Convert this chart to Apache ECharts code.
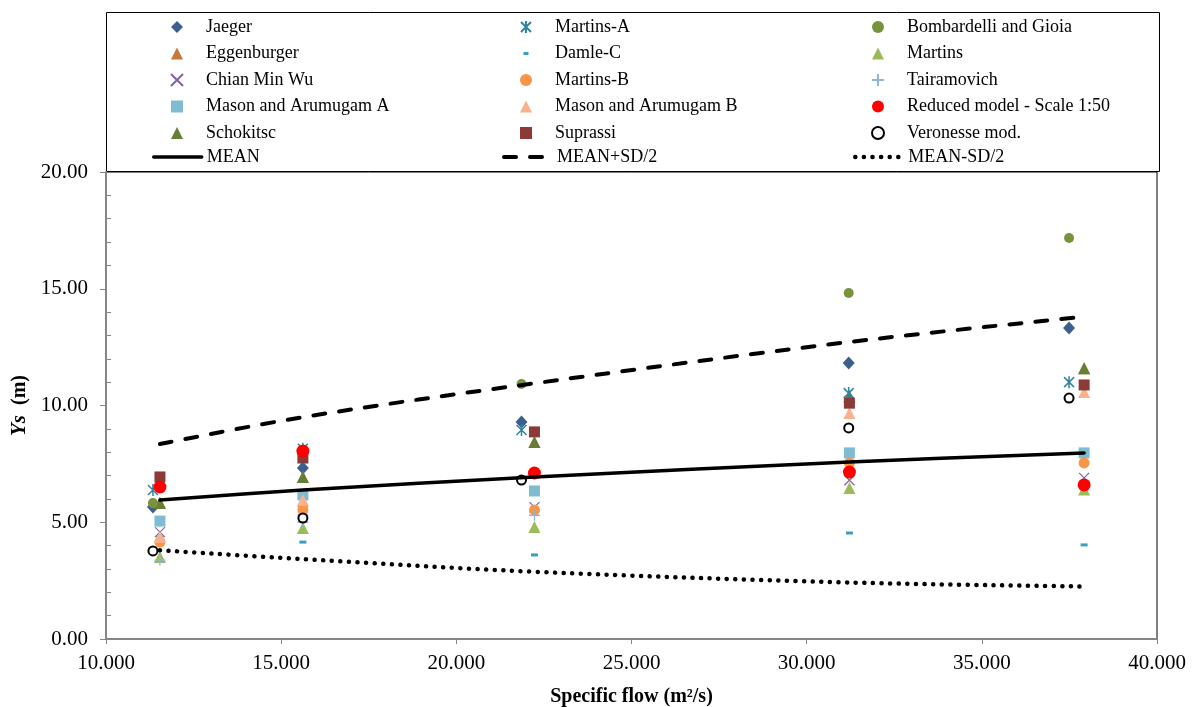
<!DOCTYPE html>
<html>
<head>
<meta charset="utf-8">
<script src="https://cdn.jsdelivr.net/npm/echarts@6/dist/echarts.min.js"></script>
<style>html,body{margin:0;padding:0;background:#fff}#c{width:1192px;height:707px}</style>
</head>
<body>
<div id="c"></div>
<script>
// x positions (specific flow, m²/s)
var qA = [11.34, 15.62, 21.86, 31.20, 37.49];
var qB = [11.54, 15.62, 22.23, 31.22, 37.92];
// Ys (m) per method
var jaeger      = [5.65, 7.32, 9.29, 11.82, 13.32];
var eggenburger = [5.82, 6.94, 8.44, 10.40, 11.60];
var chianMinWu  = [4.58, 5.50, 5.65, 6.80, 6.90];
var masonA      = [5.05, 6.17, 6.34, 7.97, 7.97];
var schokitsc   = [5.82, 6.94, 8.44, 10.40, 11.60];
var martinsA    = [6.38, 8.15, 8.95, 10.53, 11.00];
var damleC      = [4.37, 4.15, 3.60, 4.54, 4.03];
var martinsB    = [4.15, 5.52, 5.52, 7.54, 7.54];
var masonB      = [4.37, 5.95, 7.11, 9.68, 10.58];
var suprassi    = [6.94, 7.75, 8.87, 10.10, 10.88];
var bombardelli = [5.82, 8.05, 10.92, 14.82, 17.17];
var martins     = [3.51, 4.75, 4.80, 6.47, 6.40];
var tairamovich = [3.38, 5.00, 5.30, 7.15, 6.60];
var reduced     = [6.51, 8.05, 7.11, 7.15, 6.60];
var veronesse   = [3.77, 5.18, 6.81, 9.04, 10.32];
var mean        = [5.95, 6.38, 6.94, 7.58, 7.97];
var meanPlus    = [8.35, 9.50, 10.95, 12.72, 13.80];
var meanMinus   = [3.80, 3.42, 2.88, 2.42, 2.25];
var yTicks = [0, 5, 10, 15, 20];
var xTicks = [10, 15, 20, 25, 30, 35, 40];

var FONT = 'Liberation Serif';
function pts(xs, ys) { return ys.map(function (v, i) { return [xs[i], v]; }); }

var P_X = 'path://M0,0L10,10M10,0L0,10';
var P_AST = 'path://M0,0L10,10M10,0L0,10M5,-1L5,11';
var P_PLUS = 'path://M5,0L5,10M0,5L10,5';

function sc(name, xs, ys, symbol, size, color, extra) {
  var s = {
    name: name, type: 'scatter', data: pts(xs, ys), symbol: symbol, symbolSize: size,
    symbolKeepAspect: true,
    itemStyle: { color: color, opacity: 1 },
    emphasis: { disabled: true }, animation: false
  };
  if (extra) { for (var k in extra) s[k] = extra[k]; }
  return s;
}
function strokeSym(name, xs, ys, path, size, color, w) {
  return sc(name, xs, ys, path, size, 'transparent', {
    itemStyle: { color: 'transparent', borderColor: color, borderWidth: w, opacity: 1 }
  });
}
var LINE_STYLES = {
  'MEAN': { type: 'solid', width: 3.5 },
  'MEAN+SD/2': { type: [12, 14], width: 4 },
  'MEAN-SD/2': { type: [0.1, 8.5], width: 4.5 }
};
function ln(name, ys) {
  var st = LINE_STYLES[name];
  return {
    name: name, type: 'line', data: pts(qB, ys), smooth: 0.35, symbol: 'none', showSymbol: false,
    lineStyle: { color: '#000', width: st.width, type: st.type, cap: 'round' },
    itemStyle: { color: 'transparent', borderWidth: 0 },
    emphasis: { disabled: true }, animation: false, z: 3
  };
}

var series = [
  sc('Jaeger', qA, jaeger, 'diamond', [12, 13], '#3B5F8E'),
  sc('Eggenburger', qB, eggenburger, 'triangle', 12, '#C8793A'),
  strokeSym('Chian Min Wu', qB, chianMinWu, P_X, 10, '#8064A2', 1.2),
  sc('Mason and Arumugam A', qB, masonA, 'rect', 11, '#7FBCD2'),
  sc('Schokitsc', qB, schokitsc, 'triangle', 12, '#677E37'),
  strokeSym('Martins-A', qA, martinsA, P_AST, 12, '#31859C', 1.5),
  sc('Damle-C', qB, damleC, 'rect', [7, 3], '#3A9DBF', { symbolKeepAspect: false }),
  sc('Martins-B', qB, martinsB, 'circle', 11, '#F79646'),
  sc('Mason and Arumugam B', qB, masonB, 'triangle', 12, '#F9B28A'),
  sc('Suprassi', qB, suprassi, 'rect', 11, '#8B3A38'),
  sc('Bombardelli and Gioia', qA, bombardelli, 'circle', 10, '#77933C'),
  sc('Martins', qB, martins, 'triangle', 12, '#9BBB59'),
  strokeSym('Tairamovich', qB, tairamovich, P_PLUS, 11, '#95B3D7', 1.3),
  sc('Reduced model - Scale 1:50', qB, reduced, 'circle', 13, '#FF0000'),
  sc('Veronesse mod.', qA, veronesse, 'circle', 9, '#FFFFFF',
     { itemStyle: { color: '#FFFFFF', borderColor: '#000', borderWidth: 2, opacity: 1 } }),
  ln('MEAN', mean),
  ln('MEAN+SD/2', meanPlus),
  ln('MEAN-SD/2', meanMinus)
];

var col1 = ['Jaeger', 'Eggenburger', 'Chian Min Wu', 'Mason and Arumugam A', 'Schokitsc'];
var col2 = ['Martins-A', {name: 'Damle-C', icon: 'path://M0,0M12,12M3.5,4.5h5v3h-5z'}, 'Martins-B', 'Mason and Arumugam B', 'Suprassi'];
var col3 = ['Bombardelli and Gioia', 'Martins', 'Tairamovich', 'Reduced model - Scale 1:50', 'Veronesse mod.'];
var lineItems = ['MEAN', 'MEAN+SD/2', 'MEAN-SD/2'];

var TXT = { fontFamily: FONT, fontSize: 18, color: '#000', lineHeight: 18 };
function lgSym(data, colLeft) {
  return {
    data: data, orient: 'vertical', left: colLeft + 18, top: 18,
    itemWidth: 12, itemHeight: 12, itemGap: 8.5, selectedMode: false, padding: 0,
    textStyle: { fontFamily: FONT, fontSize: 18, color: '#000', lineHeight: 18, padding: [0, 0, 0, 18] }
  };
}
function lgLine(name, colLeft) {
  var st = LINE_STYLES[name];
  return {
    data: [{ name: name }], orient: 'vertical', left: colLeft, top: 148,
    itemWidth: 48, itemHeight: 12, selectedMode: false, padding: 0,
    lineStyle: { color: '#000', width: st.width, type: st.type, cap: 'round' },
    itemStyle: { color: 'transparent', borderWidth: 0 },
    textStyle: TXT
  };
}

var chart = echarts.init(document.getElementById('c'), null, { renderer: 'canvas' });
chart.setOption({
  animation: false,
  backgroundColor: '#fff',
  legend: [lgSym(col1, 152), lgSym(col2, 502), lgSym(col3, 853),
           lgLine(lineItems[0], 152), lgLine(lineItems[1], 502), lgLine(lineItems[2], 853)],
  graphic: [{
    type: 'rect', left: 104, top: 10, z: -1,
    shape: { width: 1053, height: 159 },
    style: { fill: 'none', stroke: '#000', lineWidth: 1 }
  }],
  grid: { left: 106, right: 35, top: 172, bottom: 68, outerBoundsMode: 'none', containLabel: false,
          show: true, borderColor: '#000', borderWidth: 1, backgroundColor: 'transparent' },
  xAxis: {
    type: 'value', min: xTicks[0], max: xTicks[xTicks.length - 1], interval: 5,
    name: 'Specific flow (m²/s)', nameLocation: 'middle', nameGap: 48,
    nameTextStyle: { fontFamily: FONT, fontSize: 20, fontWeight: 'bold', color: '#000' },
    axisLine: { show: true, lineStyle: { color: '#868686', width: 2 } },
    axisTick: { show: true, length: 5, lineStyle: { color: '#868686', width: 1 } },
    axisLabel: { margin: 14, fontFamily: FONT, fontSize: 21, color: '#000',
      formatter: function (v) { return v.toFixed(3); } },
    splitLine: { show: false }
  },
  yAxis: [{
    type: 'value', min: yTicks[0], max: yTicks[yTicks.length - 1], interval: 5,
    name: '{i|Ys}{b|  (m)}', nameLocation: 'middle', nameGap: 71, nameRotate: 90,
    nameTextStyle: { rich: {
      i: { fontFamily: FONT, fontSize: 21, fontWeight: 'bold', fontStyle: 'italic', color: '#000' },
      b: { fontFamily: FONT, fontSize: 20, fontWeight: 'bold', color: '#000' } } },
    axisLine: { show: true, lineStyle: { color: '#868686', width: 2 } },
    axisTick: { show: true, length: 6, lineStyle: { color: '#868686', width: 1 } },
    axisLabel: { margin: 18, fontFamily: FONT, fontSize: 21, color: '#000',
      formatter: function (v) { return v.toFixed(2); } },
    splitLine: { show: false }
  }, {
    type: 'value', position: 'left', min: 0, max: 20, interval: 5,
    axisLine: { show: false },
    axisTick: { show: false, inside: true },
    minorTick: { show: true, splitNumber: 5, length: 5, lineStyle: { color: '#868686', width: 1 } },
    axisLabel: { show: false }, splitLine: { show: false }, minorSplitLine: { show: false }
  }],
  series: series
});
</script>
</body>
</html>
